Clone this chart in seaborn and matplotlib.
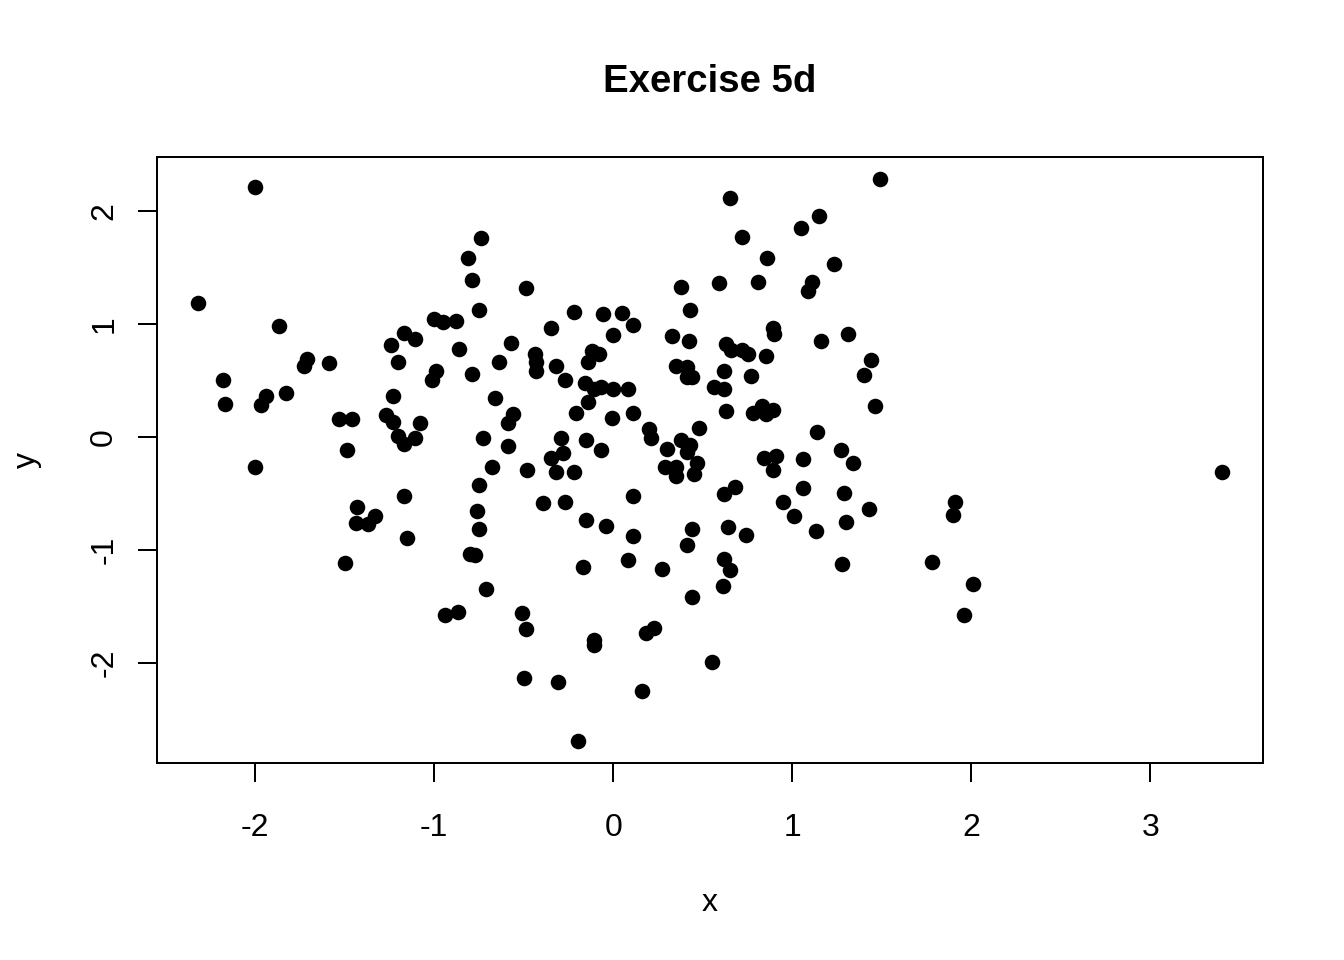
import pandas as pd
import matplotlib
matplotlib.use('Agg')
import matplotlib.pyplot as plt
import seaborn as sns

# Points
x = [-2.32, -2.00, -2.18, -2.17, -1.97, -1.94, -2.00, -1.87, -1.83, -1.73,
     -1.71, -1.59, -1.53, -1.46, -1.49, -1.50, -1.43, -1.44, -1.37, -1.33,
     -1.27, -1.24, -1.23, -1.23, -1.20, -1.17, -1.20, -1.17, -1.17, -1.15,
     -1.11, -1.11, -1.08, -1.00, -0.95, -0.88, -0.99, -1.01, -0.86, -0.94,
     -0.87, -0.81, -0.74, -0.79, -0.75, -0.79, -0.73, -0.75, -0.76, -0.75,
     -0.80, -0.77, -0.71, -0.68, -0.66, -0.64, -0.59, -0.59, -0.57, -0.56,
     -0.49, -0.48, -0.51, -0.49, -0.50, -0.44, -0.43, -0.43, -0.39, -0.35,
     -0.35, -0.32, -0.32, -0.31, -0.29, -0.28, -0.27, -0.27, -0.22, -0.21,
     -0.22, -0.20, -0.17, -0.16, -0.15, -0.15, -0.14, -0.12, -0.14, -0.11,
     -0.08, -0.11, -0.11, -0.07, -0.07, -0.06, -0.04, 0.00, -0.01, 0.00,
     0.05, 0.08, 0.11, 0.11, 0.11, 0.11, 0.08, 0.16, 0.18, 0.20,
     0.21, 0.23, 0.27, 0.29, 0.30, 0.33, 0.35, 0.35, 0.35, 0.38,
     0.38, 0.41, 0.43, 0.41, 0.43, 0.42, 0.41, 0.44, 0.44, 0.45,
     0.44, 0.47, 0.48, 0.41, 0.55, 0.56, 0.59, 0.62, 0.62, 0.63,
     0.63, 0.62, 0.62, 0.65, 0.64, 0.61, 0.65, 0.66, 0.68, 0.72,
     0.72, 0.75, 0.74, 0.77, 0.81, 0.78, 0.83, 0.85, 0.89, 0.84,
     0.91, 0.89, 0.85, 0.86, 0.89, 0.90, 0.95, 1.01, 1.05, 1.06,
     1.06, 1.09, 1.11, 1.13, 1.14, 1.15, 1.16, 1.23, 1.27, 1.28,
     1.29, 1.30, 1.31, 1.34, 1.40, 1.43, 1.44, 1.46, 1.49, 1.78,
     1.91, 1.90, 1.96, 2.01, 3.40]
y = [1.19, 2.21, 0.50, 0.29, 0.28, 0.36, -0.27, 0.98, 0.39, 0.63,
     0.69, 0.65, 0.16, 0.16, -0.12, -1.12, -0.62, -0.76, -0.77, -0.70,
     0.19, 0.81, 0.36, 0.13, 0.66, 0.92, 0.01, -0.06, -0.52, -0.90,
     0.87, -0.01, 0.12, 1.04, 1.02, 1.03, 0.58, 0.50, 0.78, -1.58,
     -1.55, 1.58, 1.76, 1.39, 1.12, 0.56, -0.01, -0.43, -0.66, -0.82,
     -1.04, -1.05, -1.35, -0.27, 0.34, 0.66, 0.12, -0.08, 0.83, 0.20,
     1.32, -0.29, -1.56, -1.70, -2.14, 0.73, 0.66, 0.58, -0.59, 0.96,
     -0.19, 0.63, -0.31, -2.17, -0.01, -0.14, 0.50, -0.58, 1.11, 0.21,
     -0.31, -2.69, -1.15, 0.48, -0.03, -0.74, 0.66, 0.76, 0.31, 0.42,
     0.73, -1.80, -1.84, 0.44, -0.12, 1.09, -0.79, 0.90, 0.17, 0.42,
     1.10, 0.42, 0.99, -0.52, 0.21, -0.88, -1.09, -2.25, -1.74, 0.07,
     -0.01, -1.69, -1.17, -0.27, -0.11, 0.89, 0.63, -0.27, -0.35, 1.33,
     -0.03, 0.62, -0.07, 0.53, 1.12, 0.85, -0.13, 0.53, -0.82, -0.33,
     -1.42, -0.23, 0.08, -0.96, -1.99, 0.44, 1.36, 0.58, 0.42, 0.23,
     0.82, -0.51, -1.08, -1.18, -0.80, -1.32, 2.12, 0.77, -0.44, 0.77,
     1.77, 0.73, -0.87, 0.54, 1.37, 0.21, 0.27, 0.20, 0.24, -0.19,
     -0.17, -0.29, 0.72, 1.58, 0.96, 0.91, -0.58, -0.70, 1.85, -0.20,
     -0.45, 1.29, 1.37, -0.83, 0.04, 1.96, 0.85, 1.53, -0.12, -1.13,
     -0.50, -0.75, 0.91, -0.23, 0.55, -0.64, 0.68, 0.27, 2.28, -1.11,
     -0.58, -0.69, -1.58, -1.30, -0.31]
x_ticks = [-2, -1, 0, 1, 2, 3]
y_ticks = [-2, -1, 0, 1, 2]

df = pd.DataFrame({'x': x, 'y': y})

sns.set_style('white')
plt.rcParams['font.family'] = ['Liberation Sans', 'DejaVu Sans']
plt.rcParams['axes.unicode_minus'] = False
plt.rcParams['text.color'] = 'black'
plt.rcParams['axes.labelcolor'] = 'black'

fig = plt.figure(figsize=(7, 5), dpi=192)
ax = fig.add_axes([157 / 1344, 197 / 960, 1106 / 1344, 606 / 960])

sns.scatterplot(data=df, x='x', y='y', color='black', s=34, linewidth=0, ax=ax)
ax.margins(0.04)

ax.set_xticks(x_ticks)
ax.set_yticks(y_ticks)
ax.tick_params(axis='both', direction='out', length=7.2, width=0.75,
               color='black', labelsize=12, labelcolor='black')
ax.tick_params(axis='x', bottom=True, pad=11.5)
ax.tick_params(axis='y', left=True, pad=7, labelrotation=90)
for lab in ax.get_yticklabels():
    lab.set_verticalalignment('center')

for sp in ax.spines.values():
    sp.set_visible(True)
    sp.set_color('black')
    sp.set_linewidth(0.75)

ax.set_title('Exercise 5d', fontsize=14.4, fontweight='bold', pad=24.4, color='black')
ax.set_xlabel('x', fontsize=12)
ax.set_ylabel('y', fontsize=12)
ax.xaxis.set_label_coords(0.5, -0.206)
ax.yaxis.set_label_coords(-0.104, 0.5)

fig.savefig('out.png', dpi=192)
